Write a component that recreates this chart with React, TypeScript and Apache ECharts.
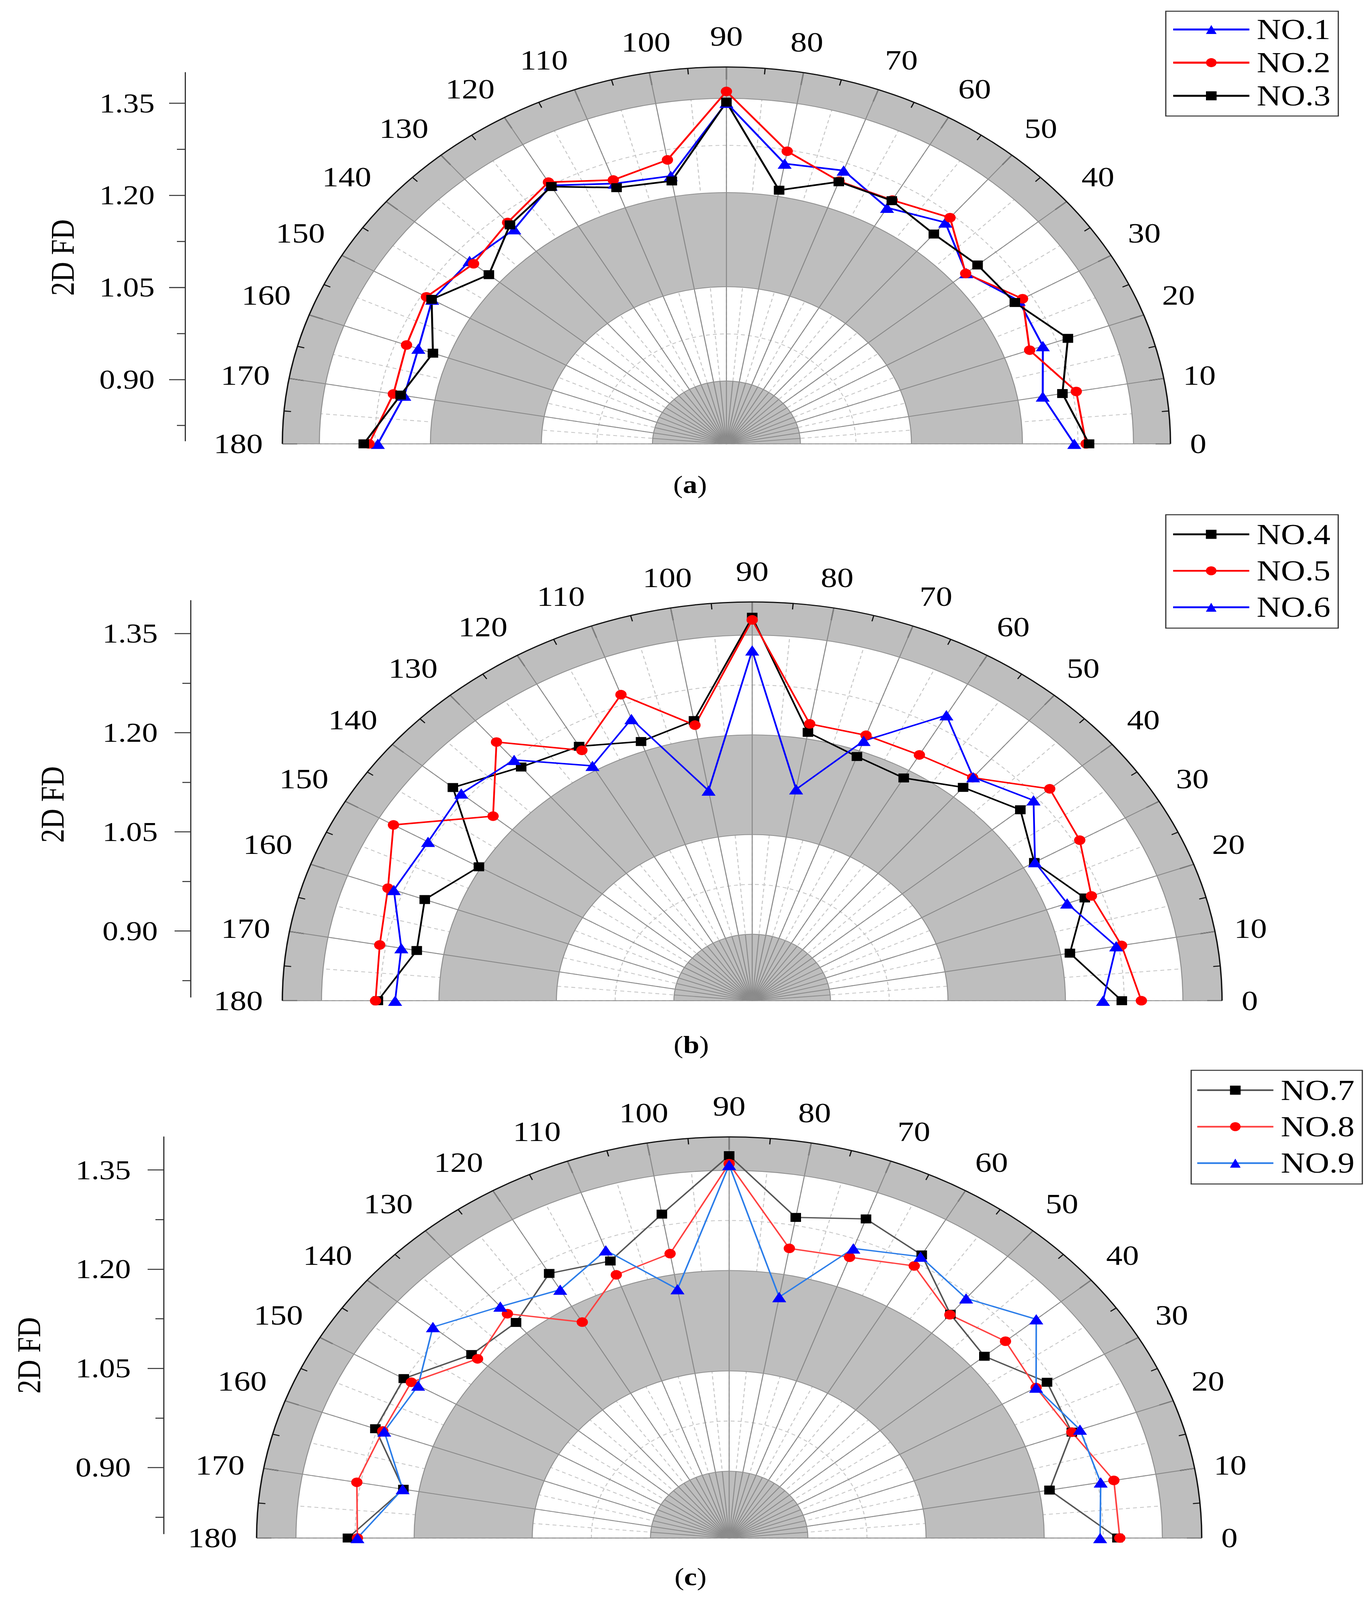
import React, { useEffect, useRef } from "react";
import * as echarts from "echarts";

// ---------- data ----------
const ANGLES = [0, 10, 20, 30, 40, 50, 60, 70, 80, 90, 100, 110, 120, 130, 140, 150, 160, 170, 180];
const INNER_SPOKES = [5, 15, 25, 35, 45, 55, 65, 75, 85, 95, 105, 115, 125, 135, 145, 155, 165, 175];
const RADIAL_TICKS = [0.9, 1.05, 1.2, 1.35];
const RADIAL_MINOR_TICKS = [0.825, 0.975, 1.125, 1.275];
const GRAY_BANDS = [[0.8, 0.9], [1.05, 1.2], [1.35, 1.4]];
const SOLID_CIRCLES = [0.9, 1.05, 1.2, 1.35];
const DASHED_CIRCLES = [0.975, 1.275];

// panel (a)
const NO1 = [1.270, 1.234, 1.255, 1.256, 1.223, 1.260, 1.234, 1.263, 1.253, 1.343, 1.233, 1.241, 1.275, 1.246, 1.253, 1.259, 1.243, 1.242, 1.271];
const NO2 = [1.286, 1.280, 1.236, 1.262, 1.222, 1.270, 1.248, 1.245, 1.273, 1.361, 1.259, 1.247, 1.281, 1.260, 1.246, 1.268, 1.260, 1.257, 1.283];
const NO3 = [1.290, 1.261, 1.291, 1.250, 1.243, 1.236, 1.247, 1.244, 1.210, 1.344, 1.225, 1.234, 1.273, 1.255, 1.219, 1.260, 1.222, 1.247, 1.290];
// panel (b)
const NO4 = [1.272, 1.212, 1.252, 1.216, 1.247, 1.219, 1.187, 1.191, 1.210, 1.377, 1.228, 1.215, 1.242, 1.259, 1.299, 1.203, 1.245, 1.235, 1.278];
const NO5 = [1.297, 1.279, 1.261, 1.283, 1.296, 1.238, 1.227, 1.225, 1.223, 1.373, 1.221, 1.290, 1.235, 1.308, 1.232, 1.329, 1.295, 1.283, 1.281];
const NO6 = [1.248, 1.272, 1.228, 1.217, 1.269, 1.239, 1.296, 1.216, 1.123, 1.327, 1.121, 1.251, 1.208, 1.273, 1.285, 1.278, 1.287, 1.255, 1.256];
// panel (c)
const NO7 = [1.293, 1.213, 1.263, 1.266, 1.223, 1.237, 1.289, 1.308, 1.287, 1.372, 1.292, 1.241, 1.257, 1.221, 1.227, 1.277, 1.278, 1.220, 1.284];
const NO8 = [1.296, 1.296, 1.263, 1.250, 1.258, 1.236, 1.270, 1.247, 1.240, 1.360, 1.232, 1.219, 1.173, 1.238, 1.217, 1.266, 1.268, 1.280, 1.272];
const NO9 = [1.271, 1.279, 1.274, 1.250, 1.309, 1.268, 1.286, 1.261, 1.166, 1.358, 1.178, 1.258, 1.229, 1.252, 1.291, 1.256, 1.266, 1.221, 1.272];

// ---------- layout & style ----------
const W = 3513;
const H = 4827;
const FONT = "'Liberation Serif', 'Times New Roman', serif";
const GRAY = "#bebebe";

type SeriesDef = { name: string; values: number[]; symbol: string; size: any; line: string; marker: string };

const PANELS: any[] = [
  {
    cap: "a", cx: 1860, cy: 1339, r: 1137,
    axisX: 474, axisTop: 219, axisH: 1111, labelMargin: 78,
    nameX: 161, nameY: 777, capX: 1767, capY: 1463,
    legendLeft: 2985, legendTop: 34, legendGap: 10, legendPad: [10, 20, 16, 16],
    lineWidth: 5,
    series: [
      { name: "NO.1", values: NO1, symbol: "triangle", size: [36, 31], line: "#0000ff", marker: "#0000ff" },
      { name: "NO.2", values: NO2, symbol: "circle", size: 29, line: "#ff0000", marker: "#ff0000" },
      { name: "NO.3", values: NO3, symbol: "rect", size: 27, line: "#000000", marker: "#000000" },
    ] as SeriesDef[],
  },
  {
    cap: "b", cx: 1926, cy: 3019, r: 1203,
    axisX: 488, axisTop: 1812, axisH: 1196, labelMargin: 84,
    nameX: 135, nameY: 2427, capX: 1770, capY: 3152,
    legendLeft: 2985, legendTop: 1553, legendGap: 20, legendPad: [14, 20, 18, 16],
    lineWidth: 4.5,
    series: [
      { name: "NO.4", values: NO4, symbol: "rect", size: 27, line: "#000000", marker: "#000000" },
      { name: "NO.5", values: NO5, symbol: "circle", size: 29, line: "#ff0000", marker: "#ff0000" },
      { name: "NO.6", values: NO6, symbol: "triangle", size: [36, 31], line: "#0000ff", marker: "#0000ff" },
    ] as SeriesDef[],
  },
  {
    cap: "c", cx: 1867, cy: 4640, r: 1210,
    axisX: 419, axisTop: 3430, axisH: 1197, labelMargin: 84,
    nameX: 75, nameY: 4089, capX: 1768, capY: 4758,
    legendLeft: 3050, legendTop: 3229, legendGap: 20, legendPad: [15, 20, 18, 13],
    lineWidth: 4,
    series: [
      { name: "NO.7", values: NO7, symbol: "rect", size: 27, line: "#555555", marker: "#000000" },
      { name: "NO.8", values: NO8, symbol: "circle", size: 29, line: "#ff4040", marker: "#ff0000" },
      { name: "NO.9", values: NO9, symbol: "triangle", size: [36, 31], line: "#2b7de9", marker: "#0000ff" },
    ] as SeriesDef[],
  },
];

function radiusOf(params: any, api: any, v: number) {
  const cs = params.coordSys;
  const pt = api.coord([v, 0]);
  return Math.hypot(pt[0] - cs.cx, pt[1] - cs.cy);
}

function bandSeries(polarIndex: number) {
  return {
    type: "custom", coordinateSystem: "polar", polarIndex, z: 1, silent: true,
    data: GRAY_BANDS,
    renderItem: (params: any, api: any) => {
      const cs = params.coordSys;
      return {
        type: "sector",
        shape: {
          cx: cs.cx, cy: cs.cy,
          r0: radiusOf(params, api, api.value(0)), r: radiusOf(params, api, api.value(1)),
          startAngle: -Math.PI, endAngle: 0, clockwise: true,
        },
        style: { fill: GRAY },
      };
    },
  };
}

function arcSeries(polarIndex: number, values: number[], z: number, style: any) {
  return {
    type: "custom", coordinateSystem: "polar", polarIndex, z, silent: true,
    data: values.map((v) => [v, 0]),
    renderItem: (params: any, api: any) => {
      const cs = params.coordSys;
      return {
        type: "arc",
        shape: {
          cx: cs.cx, cy: cs.cy, r: radiusOf(params, api, api.value(0)),
          startAngle: -Math.PI, endAngle: 0, clockwise: true,
        },
        style: { fill: null, ...style },
      };
    },
  };
}

// short radial spokes inside the innermost gray band (0.8 - 0.9)
function spokeSeries(polarIndex: number) {
  return {
    type: "custom", coordinateSystem: "polar", polarIndex, z: 2, silent: true,
    data: INNER_SPOKES.map((a) => [GRAY_BANDS[0][1], a]),
    renderItem: (params: any, api: any) => {
      const a = api.value(1);
      const p0 = api.coord([GRAY_BANDS[0][0], a]);
      const p1 = api.coord([api.value(0), a]);
      return {
        type: "line",
        shape: { x1: p0[0], y1: p0[1], x2: p1[0], y2: p1[1] },
        style: { stroke: "#8c8c8c", lineWidth: 2.5 },
      };
    },
  };
}

function buildOption() {
  const polar: any[] = [];
  const angleAxis: any[] = [];
  const radiusAxis: any[] = [];
  const grid: any[] = [];
  const xAxis: any[] = [];
  const yAxis: any[] = [];
  const legend: any[] = [];
  const series: any[] = [];
  const graphic: any[] = [];
  const off = { show: false };

  PANELS.forEach((p, k) => {
    const P0 = 2 * k;
    const P1 = 2 * k + 1;
    polar.push({ center: [p.cx, p.cy], radius: p.r });
    polar.push({ center: [p.cx, p.cy], radius: p.r });
    const base = { type: "value", min: 0, max: 180, startAngle: 0, endAngle: 180, clockwise: false };
    const rbase = { type: "value", min: 0.8, max: 1.4 };
    angleAxis.push({
      ...base, polarIndex: P0, interval: 5, z: 0,
      axisLine: off, axisTick: off, axisLabel: off,
      splitLine: { show: true, lineStyle: { color: "#c6c6c6", width: 2.5, type: [10, 8] } },
    });
    radiusAxis.push({ ...rbase, polarIndex: P0, interval: 0.05, z: 0, axisLine: off, axisTick: off, axisLabel: off, splitLine: off });
    angleAxis.push({
      ...base, polarIndex: P1, interval: 10, z: 2,
      axisLine: { show: true, lineStyle: { color: "#111", width: 3.5 } },
      axisTick: { show: true, inside: true, length: 38, lineStyle: { color: "#111", width: 3 } },
      minorTick: { show: true, splitNumber: 2, length: 18, lineStyle: { color: "#111", width: 3 } },
      axisLabel: { show: true, margin: 50, fontSize: 84, fontFamily: FONT, color: "#000" },
      splitLine: { show: true, lineStyle: { color: "#888", width: 2.5 } },
    });
    radiusAxis.push({ ...rbase, polarIndex: P1, interval: 0.05, z: 2, axisLine: off, axisTick: off, axisLabel: off, splitLine: off });

    series.push(arcSeries(P1, DASHED_CIRCLES, 0, { stroke: "#c6c6c6", lineWidth: 2.5, lineDash: [10, 8] }));
    series.push(bandSeries(P1));
    series.push(arcSeries(P1, SOLID_CIRCLES, 2, { stroke: "#909090", lineWidth: 2.5 }));
    series.push(spokeSeries(P1));

    grid.push({ left: p.axisX, top: p.axisTop, width: 200, height: p.axisH, show: false });
    xAxis.push({ gridIndex: k, type: "value", show: false, min: 0, max: 1 });
    yAxis.push({
      gridIndex: k, type: "value", min: 0.8, max: 1.4, position: "left",
      axisLine: { show: true, lineStyle: { color: "#333", width: 3 } },
      axisTick: { show: true, length: 41, customValues: RADIAL_TICKS, lineStyle: { color: "#333", width: 3 } },
      axisLabel: {
        show: true, customValues: RADIAL_TICKS, margin: p.labelMargin,
        fontSize: 81, fontFamily: FONT, color: "#000",
        formatter: (v: number) => v.toFixed(2),
      },
      splitLine: off,
    });
    yAxis.push({
      gridIndex: k, type: "value", min: 0.8, max: 1.4, position: "left", offset: 0,
      axisLine: off,
      axisTick: { show: true, length: 21, customValues: RADIAL_MINOR_TICKS, lineStyle: { color: "#333", width: 3 } },
      axisLabel: off, splitLine: off,
    });

    legend.push({
      orient: "vertical", left: p.legendLeft, top: p.legendTop,
      data: p.series.map((s: SeriesDef) => s.name),
      itemWidth: 195, itemHeight: 34, itemGap: p.legendGap, padding: p.legendPad,
      backgroundColor: "#fff", borderColor: "#333", borderWidth: 3, borderRadius: 0,
      selectedMode: false,
      lineStyle: { width: p.lineWidth + 1 },
      textStyle: { fontSize: 86, fontFamily: FONT, color: "#000", lineHeight: 90, padding: [0, 0, 0, 14] },
    });

    p.series.forEach((s: SeriesDef) => {
      series.push({
        type: "line", name: s.name, coordinateSystem: "polar", polarIndex: P1,
        data: s.values.map((v, i) => [v, ANGLES[i]]),
        symbol: s.symbol, symbolSize: s.size, showAllSymbol: true,
        lineStyle: { color: s.line, width: p.lineWidth },
        itemStyle: { color: s.marker },
        z: 3,
      });
    });

    graphic.push({
      type: "text", x: p.nameX, y: p.nameY, rotation: Math.PI / 2, z: 10,
      style: {
        text: "2D FD", fontSize: 84, fontFamily: FONT, fill: "#000",
        align: "center", verticalAlign: "middle", textAlign: "center", textVerticalAlign: "middle",
      },
    });
    graphic.push({
      type: "text", x: p.capX, y: p.capY, z: 10,
      style: {
        text: "({b|" + p.cap + "})", fontSize: 74, fontFamily: FONT, fill: "#000",
        align: "center", verticalAlign: "middle", textAlign: "center", textVerticalAlign: "middle",
        rich: { b: { fontSize: 74, fontFamily: FONT, fontWeight: "bold", fill: "#000", color: "#000" } },
      },
    });
  });

  return {
    animation: false,
    backgroundColor: "#fff",
    polar, angleAxis, radiusAxis, grid, xAxis, yAxis, legend, series, graphic,
  };
}

export default function App() {
  const ref = useRef<HTMLDivElement>(null);
  // the visible viewport may be shorter than the figure: squeeze vertically so the whole figure is photographed
  const vh = typeof window !== "undefined" && window.innerHeight > 0 ? window.innerHeight : H;
  const sy = Math.min(1, vh / H);
  useEffect(() => {
    document.body.style.margin = "0";
    document.body.style.overflow = "hidden";
    if (!ref.current) return;
    const chart = echarts.init(ref.current, undefined, { renderer: "svg", width: W, height: H });
    chart.setOption(buildOption() as any);
    return () => chart.dispose();
  }, []);
  return (
    <div style={{ width: W, height: Math.floor(H * sy), overflow: "hidden" }}>
      <div
        ref={ref}
        style={{ width: W, height: H, transform: `scaleY(${sy})`, transformOrigin: "0 0" }}
      />
    </div>
  );
}
